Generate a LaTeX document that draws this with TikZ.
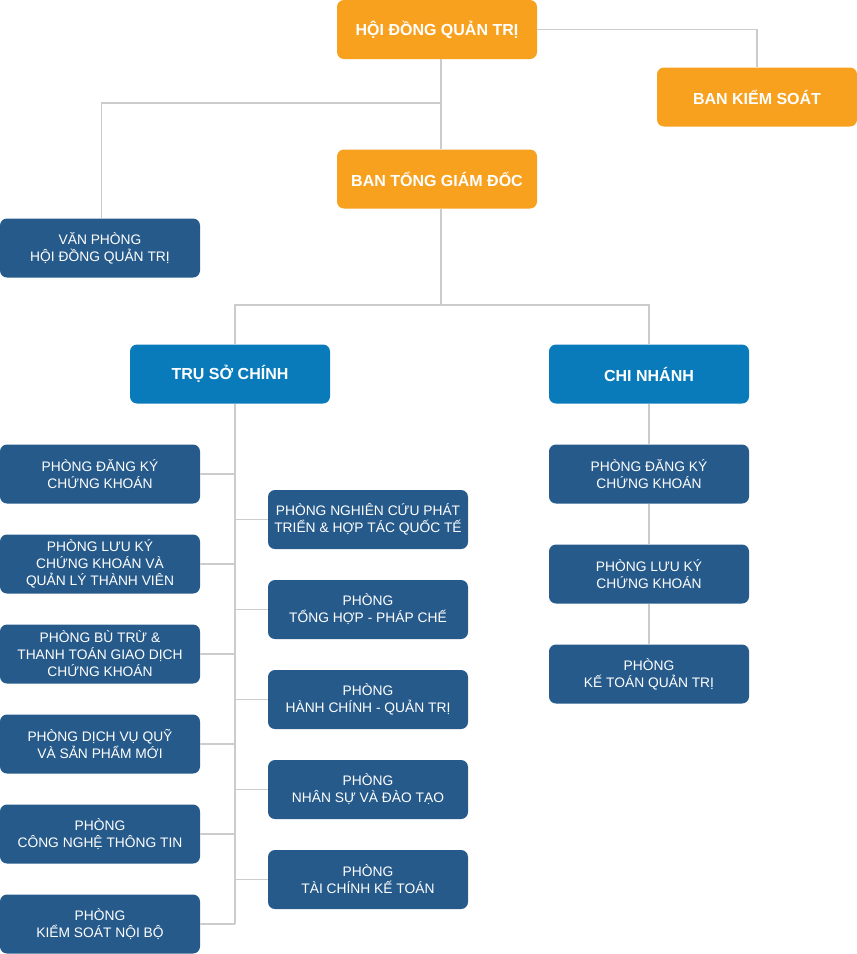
\documentclass[tikz,border=0pt]{standalone}
\usepackage{fontspec}
\setmainfont{Liberation Sans}
\definecolor{orangebox}{HTML}{F8A11E}
\definecolor{bluebox}{HTML}{0A7BBA}
\definecolor{darkbox}{HTML}{265A8A}
\definecolor{linegray}{HTML}{CCCCCC}
\tikzset{
  base/.style={rectangle, rounded corners=7pt, minimum width=200pt, minimum height=59pt, inner sep=2pt, align=center, text=white},
  topbox/.style={base, fill=orangebox, font=\fontsize{16}{18}\selectfont\bfseries},
  midbox/.style={base, fill=bluebox, font=\fontsize{16}{18}\selectfont\bfseries},
  dept/.style={base, fill=darkbox, font=\fontsize{13.8}{17}\selectfont},
  link/.style={draw=linegray, line width=1.3pt}
}
\begin{document}
\begin{tikzpicture}[x=1pt,y=-1pt]
\useasboundingbox (0,0) rectangle (857,954);
% top level
\node[topbox] (HDQT) at (437,29.5) {HỘI ĐỒNG QUẢN TRỊ};
\node[topbox] (BKS) at (757,97) {BAN KIỂM SOÁT};
\node[topbox] (BTGD) at (437,179) {BAN TỔNG GIÁM ĐỐC};
\node[dept] (VP) at (100,248) {VĂN PHÒNG\\HỘI ĐỒNG QUẢN TRỊ};
\node[midbox] (TSC) at (230,374) {TRỤ SỞ CHÍNH};
\node[midbox] (CN) at (649,374) {CHI NHÁNH};
% left column
\node[dept] (L1) at (100,474) {PHÒNG ĐĂNG KÝ\\CHỨNG KHOÁN};
\node[dept] (L2) at (100,564) {PHÒNG LƯU KÝ\\CHỨNG KHOÁN VÀ\\QUẢN LÝ THÀNH VIÊN};
\node[dept] (L3) at (100,654) {PHÒNG BÙ TRỪ \&\\THANH TOÁN GIAO DỊCH\\CHỨNG KHOÁN};
\node[dept] (L4) at (100,744) {PHÒNG DỊCH VỤ QUỸ\\VÀ SẢN PHẨM MỚI};
\node[dept] (L5) at (100,834) {PHÒNG\\CÔNG NGHỆ THÔNG TIN};
\node[dept] (L6) at (100,924) {PHÒNG\\KIỂM SOÁT NỘI BỘ};
% middle column
\node[dept] (M1) at (368,519.5) {PHÒNG NGHIÊN CỨU PHÁT\\TRIỂN \& HỢP TÁC QUỐC TẾ};
\node[dept] (M2) at (368,609.5) {PHÒNG\\TỔNG HỢP - PHÁP CHẾ};
\node[dept] (M3) at (368,699.5) {PHÒNG\\HÀNH CHÍNH - QUẢN TRỊ};
\node[dept] (M4) at (368,789.5) {PHÒNG\\NHÂN SỰ VÀ ĐÀO TẠO};
\node[dept] (M5) at (368,879.5) {PHÒNG\\TÀI CHÍNH KẾ TOÁN};
% right column
\node[dept] (R1) at (649,474) {PHÒNG ĐĂNG KÝ\\CHỨNG KHOÁN};
\node[dept] (R2) at (649,574) {PHÒNG LƯU KÝ\\CHỨNG KHOÁN};
\node[dept] (R3) at (649,674) {PHÒNG\\KẾ TOÁN QUẢN TRỊ};
% junction coordinates
\coordinate (k1) at (441,103);
\coordinate (k2) at (441,305);
\coordinate (t) at (235,305);
\coordinate (c) at (649,305);
% connectors
\draw[link] (HDQT.east) -| (BKS.north);
\draw[link] (k1 |- HDQT.south) -- (k1 |- BTGD.north);
\draw[link] (k1) -| ([xshift=1.5pt]VP.north);
\draw[link] (k2 |- BTGD.south) -- (k2);
\draw[link] (t |- TSC.north) -- (t) -- (c) -- (c |- CN.north);
\draw[link] (t |- TSC.south) -- (t |- L6.east);
\foreach \n in {L1,L2,L3,L4,L5,L6} \draw[link] (\n.east) -- (t |- \n.east);
\foreach \n in {M1,M2,M3,M4,M5} \draw[link] (\n.west) -- (t |- \n.west);
\draw[link] (CN.south) -- (R1.north);
\draw[link] (R1.south) -- (R2.north);
\draw[link] (R2.south) -- (R3.north);
\end{tikzpicture}
\end{document}
